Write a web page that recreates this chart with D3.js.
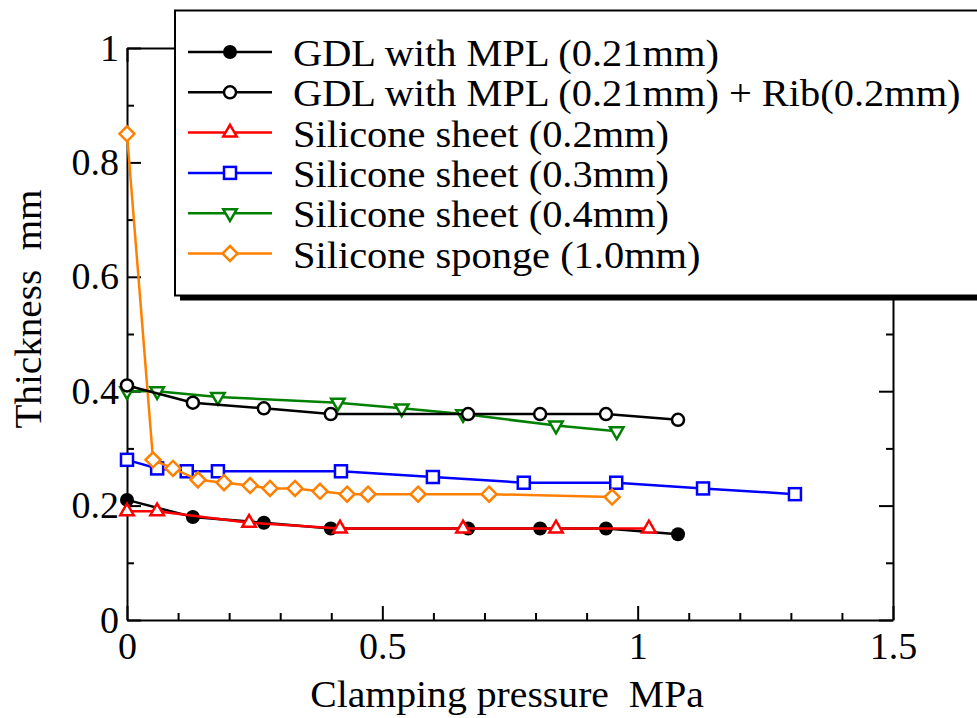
<!DOCTYPE html>
<html>
<head>
<meta charset="utf-8">
<script src="https://cdn.jsdelivr.net/npm/d3@7"></script>
<style>
  html, body { margin: 0; padding: 0; background: #fff; }
  svg { display: block; }
  text.lbl { font-family: Times; fill: #000; }
</style>
</head>
<body>
<svg id="chart" width="977" height="718"></svg>
<script>
// Clamping pressure (MPa) vs. thickness (mm)
const gdlX = [0, 0.129, 0.268, 0.399, 0.668, 0.809, 0.938, 1.079];
const gdlY = [0.21, 0.18, 0.17, 0.16, 0.16, 0.16, 0.16, 0.15];

const ribX = [0, 0.129, 0.268, 0.399, 0.668, 0.809, 0.938, 1.079];
const ribY = [0.41, 0.38, 0.37, 0.36, 0.36, 0.36, 0.36, 0.35];

const sheet02X = [0, 0.059, 0.239, 0.417, 0.658, 0.840, 1.022];
const sheet02Y = [0.19, 0.19, 0.17, 0.16, 0.16, 0.16, 0.16];

const sheet03X = [0, 0.059, 0.117, 0.178, 0.419, 0.599, 0.777, 0.958, 1.128, 1.308];
const sheet03Y = [0.28, 0.265, 0.26, 0.26, 0.26, 0.25, 0.24, 0.24, 0.23, 0.22];

const sheet04X = [0, 0.059, 0.178, 0.413, 0.538, 0.658, 0.840, 0.959];
const sheet04Y = [0.40, 0.40, 0.39, 0.38, 0.37, 0.36, 0.34, 0.33];

const spongeX = [0, 0.051, 0.090, 0.139, 0.190, 0.241, 0.280, 0.329, 0.378, 0.431, 0.472, 0.570, 0.709, 0.950];
const spongeY = [0.85, 0.28, 0.265, 0.245, 0.24, 0.235, 0.23, 0.23, 0.225, 0.22, 0.22, 0.22, 0.22, 0.215];

const xMajorTicks = [0, 0.5, 1, 1.5];
const xMinorTicks = [0.1, 0.2, 0.3, 0.4, 0.6, 0.7, 0.8, 0.9, 1.1, 1.2, 1.3, 1.4];
const yMajorTicks = [0, 0.2, 0.4, 0.6, 0.8, 1];
const yMinorTicks = [0.1, 0.3, 0.5, 0.7, 0.9];

const seriesNames = [
  "GDL with MPL (0.21mm)",
  "GDL with MPL (0.21mm) + Rib(0.2mm)",
  "Silicone sheet (0.2mm)",
  "Silicone sheet (0.3mm)",
  "Silicone sheet (0.4mm)",
  "Silicone sponge (1.0mm)"
];

const series = [
  { name: seriesNames[0], xs: gdlX, ys: gdlY, color: "#000000", marker: "circleFilled" },
  { name: seriesNames[1], xs: ribX, ys: ribY, color: "#000000", marker: "circleOpen" },
  { name: seriesNames[2], xs: sheet02X, ys: sheet02Y, color: "#ff0000", marker: "triUp" },
  { name: seriesNames[3], xs: sheet03X, ys: sheet03Y, color: "#0000ff", marker: "square" },
  { name: seriesNames[4], xs: sheet04X, ys: sheet04Y, color: "#008000", marker: "triDown" },
  { name: seriesNames[5], xs: spongeX, ys: spongeY, color: "#ff8000", marker: "diamond" }
];

// drawing order of the plotted series (legend keeps the list order)
const drawOrder = [4, 3, 5, 0, 1, 2];

const svg = d3.select("#chart").attr("font-family", "Times");
const x = d3.scaleLinear().domain([0, 1.5]).range([127, 893]);
const y = d3.scaleLinear().domain([0, 1]).range([620, 48]);

const FONT = 38;
const SERIF = "Times";

// ----- axes (frame with inward ticks) -----
function styleAxis(g) {
  g.attr("font-family", null).attr("font-size", null);
  g.select(".domain").attr("stroke", "#000").attr("stroke-width", 2);
  g.selectAll(".tick line").attr("stroke", "#000").attr("stroke-width", 2);
  g.selectAll(".tick text")
    .attr("class", "lbl")
    .style("font-family", SERIF)
    .style("font-size", FONT + "px")
    .attr("fill", "#000");
}

function addAxis(axisFn, transform, values, size, labelled, padding) {
  const ax = axisFn.tickValues(values).tickSizeInner(size).tickSizeOuter(0);
  if (labelled) ax.tickFormat(d3.format("~g")).tickPadding(padding);
  else ax.tickFormat("");
  const g = svg.append("g").attr("transform", transform).call(ax);
  styleAxis(g);
  return g;
}

// bottom
addAxis(d3.axisBottom(x), `translate(0,${y(0)})`, xMajorTicks, -14, true, 12);
addAxis(d3.axisBottom(x), `translate(0,${y(0)})`, xMinorTicks, -7, false).select(".domain").remove();
// left
addAxis(d3.axisLeft(y), `translate(${x(0)},0)`, yMajorTicks, -14, true, 8);
addAxis(d3.axisLeft(y), `translate(${x(0)},0)`, yMinorTicks, -7, false).select(".domain").remove();
// top
addAxis(d3.axisTop(x), `translate(0,${y(1)})`, xMajorTicks, -14, false);
addAxis(d3.axisTop(x), `translate(0,${y(1)})`, xMinorTicks, -7, false).select(".domain").remove();
// right
addAxis(d3.axisRight(y), `translate(${x(1.5)},0)`, yMajorTicks, -14, false);
addAxis(d3.axisRight(y), `translate(${x(1.5)},0)`, yMinorTicks, -7, false).select(".domain").remove();

// axis titles
svg.append("text")
  .attr("class", "lbl")
  .attr("transform", "translate(507,707) scale(1.045,1)")
  .attr("text-anchor", "middle")
  .style("font-family", SERIF)
  .style("font-size", FONT + "px")
  .style("white-space", "pre")
  .text("Clamping pressure  MPa");

svg.append("text")
  .attr("class", "lbl")
  .attr("transform", "translate(41,309) rotate(-90) scale(1.03,1)")
  .attr("text-anchor", "middle")
  .style("font-family", SERIF)
  .style("font-size", FONT + "px")
  .style("white-space", "pre")
  .text("Thickness  mm");

// ----- markers -----
function drawMarker(g, kind, color, cx, cy) {
  const sw = 2.5;
  if (kind === "circleFilled") {
    g.append("circle").attr("cx", cx).attr("cy", cy).attr("r", 7)
      .attr("fill", color).attr("stroke", "none");
  } else if (kind === "circleOpen") {
    g.append("circle").attr("cx", cx).attr("cy", cy).attr("r", 6)
      .attr("fill", "#fff").attr("stroke", color).attr("stroke-width", sw);
  } else if (kind === "square") {
    g.append("rect").attr("x", cx - 6).attr("y", cy - 6).attr("width", 12).attr("height", 12)
      .attr("fill", "#fff").attr("stroke", color).attr("stroke-width", sw);
  } else if (kind === "triUp") {
    const s = 13.5, h = s * Math.sqrt(3) / 2;
    g.append("path")
      .attr("d", `M${cx},${cy - 2 * h / 3}L${cx + s / 2},${cy + h / 3}L${cx - s / 2},${cy + h / 3}Z`)
      .attr("fill", "#fff").attr("stroke", color).attr("stroke-width", sw);
  } else if (kind === "triDown") {
    const s = 13.5, h = s * Math.sqrt(3) / 2;
    g.append("path")
      .attr("d", `M${cx},${cy + 2 * h / 3}L${cx + s / 2},${cy - h / 3}L${cx - s / 2},${cy - h / 3}Z`)
      .attr("fill", "#fff").attr("stroke", color).attr("stroke-width", sw);
  } else if (kind === "diamond") {
    const r = 7.5;
    g.append("path")
      .attr("d", `M${cx},${cy - r}L${cx + r},${cy}L${cx},${cy + r}L${cx - r},${cy}Z`)
      .attr("fill", "#fff").attr("stroke", color).attr("stroke-width", sw);
  }
}

// ----- series -----
const line = d3.line().x(d => x(d[0])).y(d => y(d[1]));
const plot = svg.append("g");
drawOrder.forEach(i => {
  const s = series[i];
  const pts = s.xs.map((v, k) => [v, s.ys[k]]);
  const g = plot.append("g");
  g.append("path").datum(pts).attr("d", line)
    .attr("fill", "none").attr("stroke", s.color).attr("stroke-width", 2.5);
  pts.forEach(p => drawMarker(g, s.marker, s.color, x(p[0]), y(p[1])));
});

// ----- legend -----
const legend = svg.append("g");
const lx = 175, ly = 10.5, lw = 830, lh = 285;
legend.append("rect").attr("x", lx + 5).attr("y", ly + 5).attr("width", lw).attr("height", lh)
  .attr("fill", "#000");
legend.append("rect").attr("x", lx).attr("y", ly).attr("width", lw).attr("height", lh)
  .attr("fill", "#fff").attr("stroke", "#000").attr("stroke-width", 2);

const rowY0 = 52, rowStep = 40.3;
series.forEach((s, i) => {
  const ry = rowY0 + i * rowStep;
  const g = legend.append("g");
  g.append("line").attr("x1", 188).attr("x2", 272).attr("y1", ry).attr("y2", ry)
    .attr("stroke", s.color).attr("stroke-width", 2.5);
  drawMarker(g, s.marker, s.color, 230, ry);
  g.append("text")
    .attr("class", "lbl")
    .attr("transform", `translate(293,${ry + 14}) scale(1.064,1)`)
    .style("font-family", SERIF)
    .style("font-size", FONT + "px")
    .text(s.name);
});
</script>
</body>
</html>
